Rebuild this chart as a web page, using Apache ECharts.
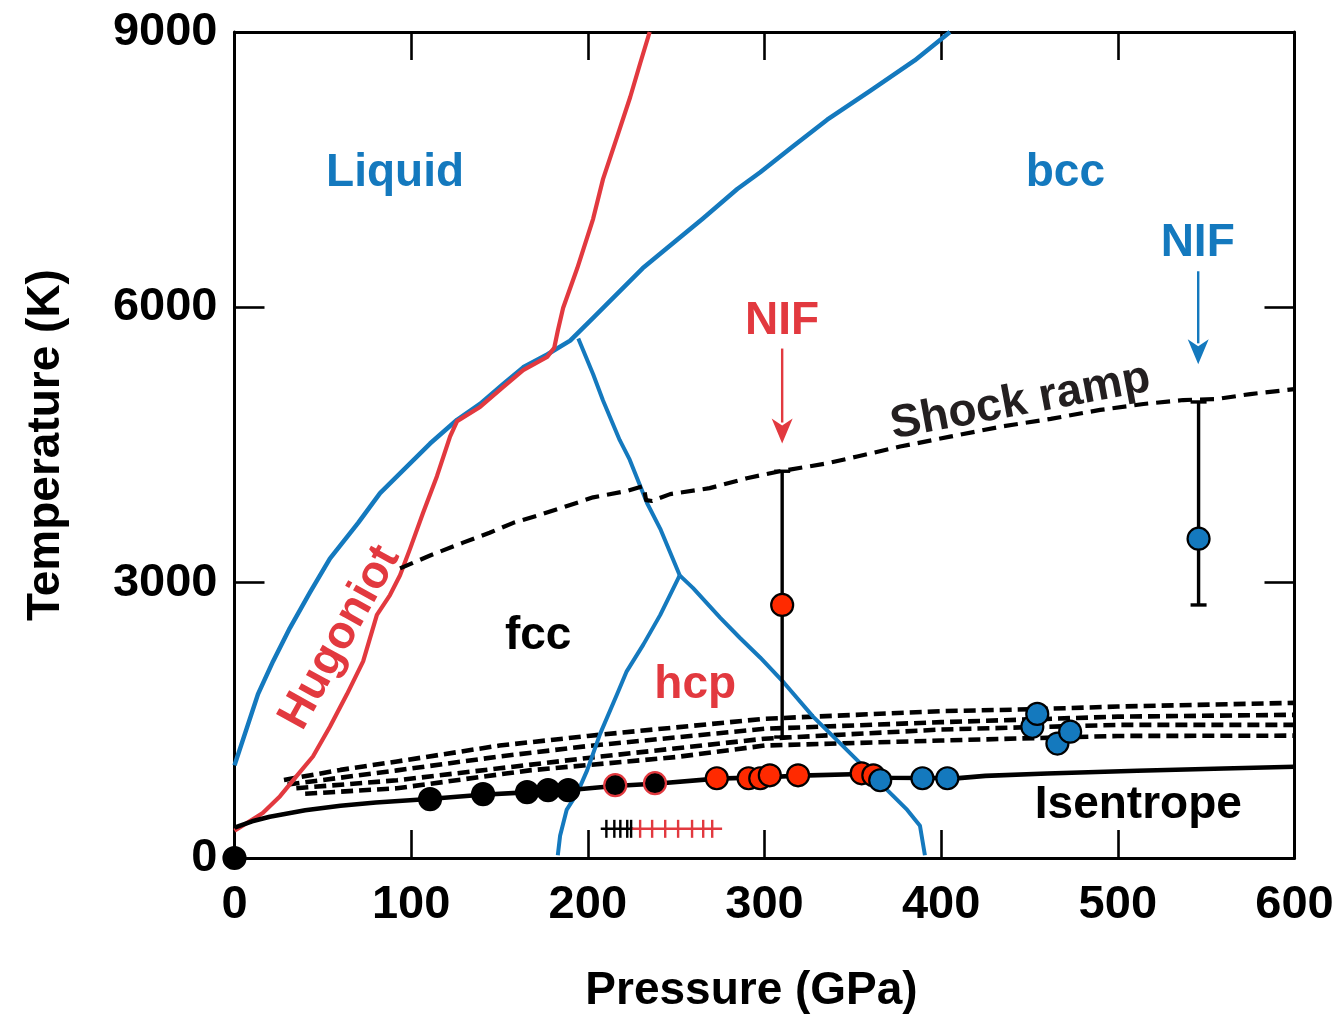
<!DOCTYPE html>
<html>
<head>
<meta charset="utf-8">
<title>Iron phase diagram</title>
<script src="https://cdn.jsdelivr.net/npm/echarts@6/dist/echarts.min.js"></script>
<style>
  html, body { margin: 0; padding: 0; background: #ffffff; }
  #chart { width: 1340px; height: 1019px; }
</style>
</head>
<body>
<div id="chart"></div>
<script>
// ---- Phase boundaries: [pressure (GPa), temperature (K)] ----
const liquidus = [[0,1009],[13.3,1786],[21.8,2142],[31.4,2508],[42.8,2897],[54,3263],[70,3652],[82.4,3976],[99.4,4300],[110.7,4516],[126,4775],[139,4947],[152,5163],[163.4,5346],[177,5486],[190,5637],[203,5886],[231,6425],[246.6,6674],[265,6965],[284.6,7289],[297.6,7472],[316,7753],[335.5,8044],[360,8360],[385,8690],[405,9000]];
const fccBcc = [[194.6,5660],[203,5270],[208.6,4985],[218,4555],[223.7,4340],[233.5,3868],[241,3587],[252,3080]];
const hcpBcc = [[252,3080],[259.6,2940],[275,2617],[286,2400],[297.5,2185],[311,1910],[327.6,1538],[343,1247],[356,998],[365.5,815],[380.8,524],[388,351],[390.8,30]];
const fccHcp = [[252,3080],[241,2649],[231.4,2325],[222,2034],[216.6,1786],[207,1355],[199.6,955],[194,707],[188,524],[184.3,243],[183,30]];

// ---- Hugoniot, shock ramp and isentrope paths ----
const hugoniot = [[0,297],[16,491],[25.8,674],[35,890],[44.4,1106],[54,1430],[63.7,1786],[72.8,2142],[80.6,2650],[88,2865],[93.7,3080],[99.4,3371],[106.7,3760],[114.6,4160],[122,4591],[126,4760],[139,4915],[152,5130],[163.4,5315],[177,5460],[181,5560],[183,5745],[186,5993],[194,6425],[203,6965],[208.6,7397],[216.6,7860],[224,8292],[229.6,8657],[235,9000]];
const shockRamp = [[93.7,3155],[110.7,3296],[129.4,3436],[144.4,3544],[157.8,3652],[171,3728],[186,3820],[203,3930],[222,3998],[231.5,4052],[233,3900],[236.4,3890],[246.6,3965],[269,4030],[290,4138],[308.8,4214],[335.5,4300],[352.5,4375],[376.8,4483],[405,4591],[433.5,4699],[462,4785],[490,4882],[514.5,4947],[537,4990],[556,5001],[575,5055],[600,5109]];
const isentrope = [[0,330],[10,400],[20,450],[40,520],[60,570],[80,605],[110,642],[140,690],[165,715],[190,740],[215,785],[240,812],[273,865],[300,880],[320,898],[355,915],[370,875],[410,870],[425,895],[460,920],[511,950],[560,975],[600,995]];

// ---- Ramp compression paths (dashed) ----
const ramp1 = [[28,850],[60,960],[92,1052],[150,1225],[200,1330],[300,1517],[400,1600],[450,1620],[500,1650],[600,1690]];
const ramp2 = [[30,800],[92,955],[150,1106],[200,1220],[300,1408],[400,1480],[500,1540],[600,1560]];
const ramp3 = [[35,760],[92,847],[150,977],[200,1090],[300,1300],[400,1400],[500,1450],[600,1450]];
const ramp4 = [[40,700],[92,760],[167,955],[250,1100],[300,1225],[400,1280],[500,1330],[600,1333]];

// ---- Measurements ----
const originPoint = [[0,0]];
const blackPoints = [[110.7,642],[140.7,696],[165.6,718],[177.5,739],[188.9,739]];
const blackRedEdge = [[215.5,793],[238,815]];
const redPoints = [[273,869],[291,869],[297.6,869],[303,901],[319,901],[355,923],[361.6,901]];
const bluePoints = [[365.5,847],[389.4,869],[403.5,869],[451.6,1430],[454.4,1570],[465.8,1247],[473,1376]];
// NIF shots: [pressure, temperature, low, high]
const nifRed = [[310,2757,1318,4214]];
const nifBlue = [[545.7,3479,2757,4969]];
// Arrows: [pressure, tail temperature, tip temperature]
const arrowRed = [[310,5551,4516]];
const arrowBlue = [[545.5,6393,5379]];
// Diffraction hatch marks near 220-270 GPa
const hatchT = 318;
const hatchBlackLine = [[207.3,hatchT],[225.7,hatchT]];
const hatchRedLine = [[223.9,hatchT],[276,hatchT]];
const hatchBlackTicks = [210.5,215,218.4,222.3,224.5];
const hatchRedTicks = [229.6,236.4,243.8,251.1,259,265.3,270.4];

// ---- Axis ticks ----
const xTicks = { min: 0, max: 600, interval: 100 };
const yTicks = { min: 0, max: 9000, interval: 3000 };

// ---- Region / path labels ----
const labelNames = ['Liquid','bcc','NIF','NIF','fcc','hcp','Hugoniot','Shock ramp','Isentrope'];
const labelP     = [90.9, 470.3, 310, 545.2, 171.9, 260.8, 59.7, 444.8, 511.6];
const labelT     = [7460, 7460, 5850, 6700, 2420, 1880, 2401, 4969, 570];
const labelColor = ['blue','blue','red','blue','black','red','red','dark','black'];
const labelRot   = [0, 0, 0, 0, 0, 0, 61, 10.5, 0];

const BLUE = '#1479be';
const RED = '#e2393f';
const RED_FILL = '#ff2a00';
const FONT = '"Liberation Sans", Arial, Helvetica, sans-serif';
const palette = { blue: BLUE, red: RED, black: '#000000', dark: '#231f20' };

const chart = echarts.init(document.getElementById('chart'), null, { renderer: 'canvas' });

function pathSeries(data, color, width, dash, z) {
  return {
    type: 'line', data: data, showSymbol: false, symbol: 'none', smooth: false,
    lineStyle: { color: color, width: width, type: dash || 'solid', cap: 'butt', join: 'round', opacity: 1 },
    silent: true, z: z || 2, animation: false
  };
}

function dotSeries(data, fill, edge, z, clip) {
  return {
    type: 'scatter', data: data, symbol: 'circle', symbolSize: 22,
    itemStyle: { color: fill, borderColor: edge, borderWidth: 2.2, opacity: 1 },
    z: z || 5, clip: clip !== false, silent: true, animation: false
  };
}

const errorBarSeries = (data, fill) => ({
  type: 'custom', z: 6, animation: false, silent: true,
  data: data,
  renderItem: function (params, api) {
    const p = api.value(0);
    const top = api.coord([p, api.value(3)]);
    const bot = api.coord([p, api.value(2)]);
    const mid = api.coord([p, api.value(1)]);
    const cap = 8;
    const st = { stroke: '#000', lineWidth: 3.4 };
    return {
      type: 'group', children: [
        { type: 'line', shape: { x1: top[0], y1: top[1], x2: bot[0], y2: bot[1] }, style: st },
        { type: 'line', shape: { x1: top[0] - cap, y1: top[1], x2: top[0] + cap, y2: top[1] }, style: st },
        { type: 'line', shape: { x1: bot[0] - cap, y1: bot[1], x2: bot[0] + cap, y2: bot[1] }, style: st },
        { type: 'circle', shape: { cx: mid[0], cy: mid[1], r: 11 }, style: { fill: fill, stroke: '#000', lineWidth: 2.2 } }
      ]
    };
  }
});

const arrowSeries = (data, color) => ({
  type: 'custom', z: 6, animation: false, silent: true,
  data: data,
  renderItem: function (params, api) {
    const tail = api.coord([api.value(0), api.value(1)]);
    const tip = api.coord([api.value(0), api.value(2)]);
    const headLen = 25, headHalf = 10.5;
    return {
      type: 'group', children: [
        { type: 'line', shape: { x1: tail[0], y1: tail[1], x2: tip[0], y2: tip[1] - headLen + 4 },
          style: { stroke: color, lineWidth: 2.4 } },
        { type: 'polygon', shape: { points: [[tip[0], tip[1]], [tip[0] - headHalf, tip[1] - headLen], [tip[0], tip[1] - headLen + 7], [tip[0] + headHalf, tip[1] - headLen]] },
          style: { fill: color } }
      ]
    };
  }
});

const tickSeries = (ps, color) => ({
  type: 'scatter', data: ps.map(p => [p, hatchT]), symbol: 'rect', symbolSize: [2.4, 18],
  itemStyle: { color: color, opacity: 1 }, z: 4, silent: true, animation: false
});

const labelData = labelNames.map((n, i) => ({
  name: n,
  value: [labelP[i], labelT[i]],
  label: { color: palette[labelColor[i]], rotate: labelRot[i] }
}));

const axisLineStyle = { color: '#000', width: 3 };
const tickStyle = { color: '#000', width: 2.6 };
const labelFont = { fontFamily: FONT, fontWeight: 'bold', fontSize: 47, color: '#000' };
const plain = v => String(v);

chart.setOption({
  animation: false,
  backgroundColor: '#ffffff',
  grid: { left: 234.5, top: 32, width: 1060, height: 834, containLabel: false },
  xAxis: [
    {
      type: 'value', position: 'bottom', min: xTicks.min, max: xTicks.max, interval: xTicks.interval,
      axisLine: { show: true, onZero: false, lineStyle: axisLineStyle },
      axisTick: { show: true, inside: true, length: 28, lineStyle: tickStyle },
      axisLabel: Object.assign({ margin: 24, formatter: plain }, labelFont),
      splitLine: { show: false },
      name: 'Pressure (GPa)', nameLocation: 'middle', nameGap: 110,
      nameTextStyle: { fontFamily: FONT, fontWeight: 'bold', fontSize: 46, color: '#000', padding: [0, 26, 0, 0] }
    },
    {
      type: 'value', position: 'top', min: xTicks.min, max: xTicks.max, interval: xTicks.interval,
      axisLine: { show: true, onZero: false, lineStyle: axisLineStyle },
      axisTick: { show: true, inside: true, length: 28, lineStyle: tickStyle },
      axisLabel: { show: false }, splitLine: { show: false }
    }
  ],
  yAxis: [
    {
      type: 'value', position: 'left', min: yTicks.min, max: yTicks.max, interval: yTicks.interval,
      axisLine: { show: true, onZero: false, lineStyle: axisLineStyle },
      axisTick: { show: true, inside: true, length: 30, lineStyle: tickStyle },
      axisLabel: Object.assign({ margin: 17, formatter: plain }, labelFont),
      splitLine: { show: false },
      name: 'Temperature (K)', nameLocation: 'middle', nameGap: 165, nameRotate: 90,
      nameTextStyle: { fontFamily: FONT, fontWeight: 'bold', fontSize: 46, color: '#000' }
    },
    {
      type: 'value', position: 'right', min: yTicks.min, max: yTicks.max, interval: yTicks.interval,
      axisLine: { show: true, onZero: false, lineStyle: axisLineStyle },
      axisTick: { show: true, inside: true, length: 30, lineStyle: tickStyle },
      axisLabel: { show: false }, splitLine: { show: false }
    }
  ],
  series: [
    pathSeries(ramp1, '#000', 4.6, [12, 6], 2),
    pathSeries(ramp2, '#000', 4.6, [12, 6], 2),
    pathSeries(ramp3, '#000', 4.6, [12, 6], 2),
    pathSeries(ramp4, '#000', 4.6, [12, 6], 2),
    pathSeries(liquidus, BLUE, 4.5, null, 3),
    pathSeries(fccBcc, BLUE, 4, null, 3),
    pathSeries(hcpBcc, BLUE, 4, null, 3),
    pathSeries(fccHcp, BLUE, 4, null, 3),
    pathSeries(hugoniot, RED, 4.2, null, 3),
    pathSeries(shockRamp, '#000', 4.2, [14, 8], 3),
    pathSeries(isentrope, '#000', 4.6, null, 3),
    pathSeries(hatchBlackLine, '#000', 2.4, null, 4),
    pathSeries(hatchRedLine, RED, 2.4, null, 4),
    tickSeries(hatchBlackTicks, '#000'),
    tickSeries(hatchRedTicks, RED),
    dotSeries(blackPoints, '#000', '#000', 5),
    dotSeries(blackRedEdge, '#000', RED, 5),
    dotSeries(redPoints, RED_FILL, '#000', 5),
    dotSeries(bluePoints, BLUE, '#000', 5),
    dotSeries(originPoint, '#000', '#000', 7, false),
    errorBarSeries(nifRed, RED_FILL),
    errorBarSeries(nifBlue, BLUE),
    arrowSeries(arrowRed, RED),
    arrowSeries(arrowBlue, BLUE),
    {
      type: 'scatter', data: labelData, symbolSize: 0, z: 8, silent: true, animation: false,
      itemStyle: { opacity: 1 },
      label: {
        show: true, position: 'inside', formatter: '{b}', align: 'center', verticalAlign: 'middle',
        fontFamily: FONT, fontWeight: 'bold', fontSize: 46, opacity: 1
      }
    }
  ]
});
</script>
</body>
</html>
